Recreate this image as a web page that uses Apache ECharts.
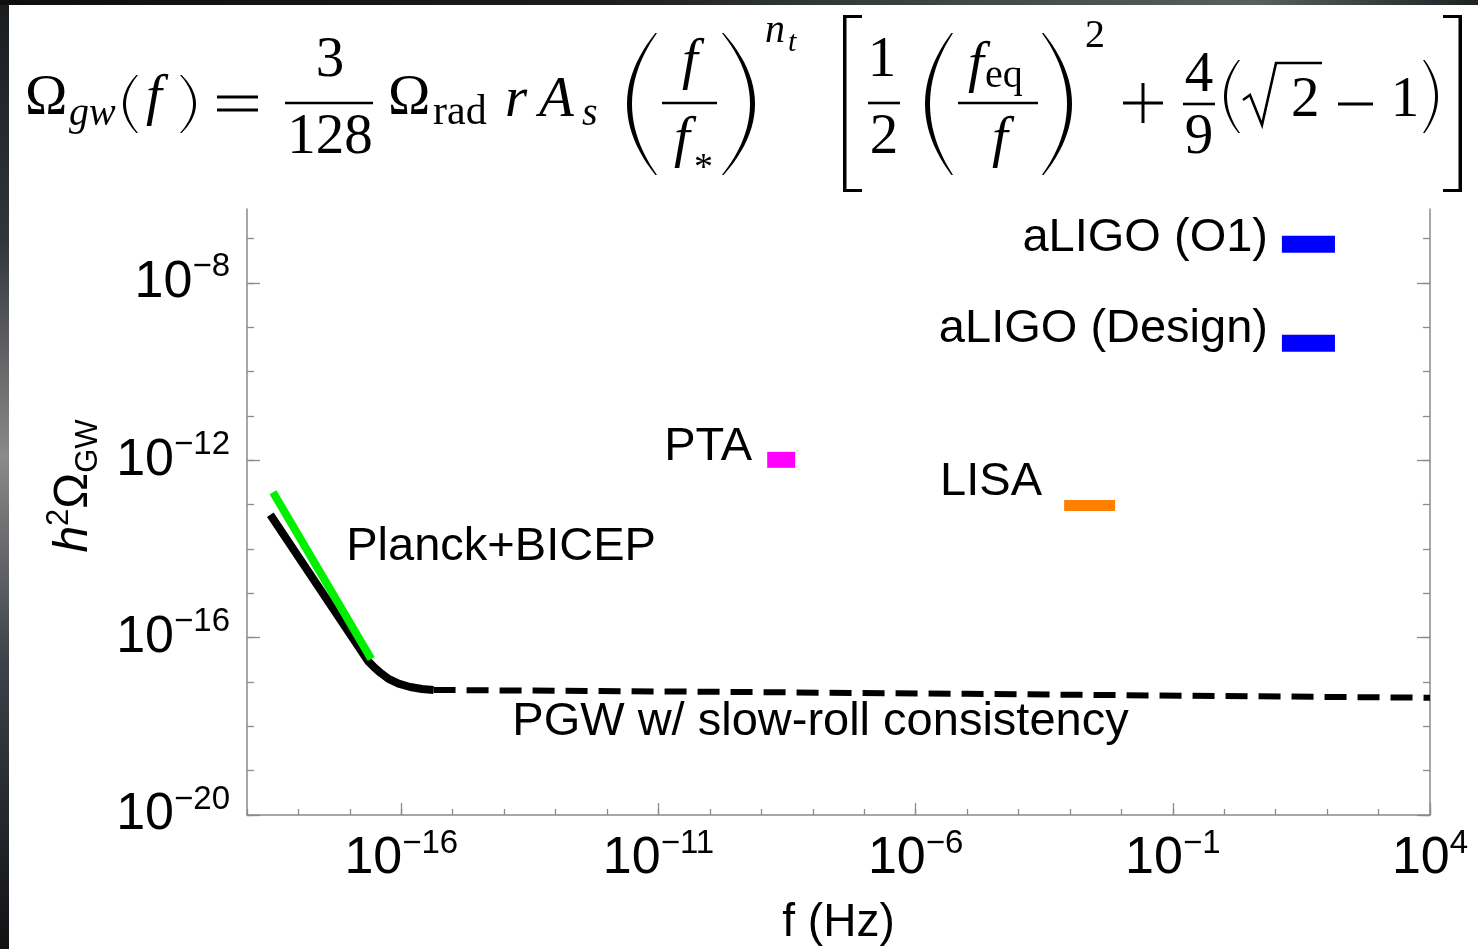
<!DOCTYPE html>
<html><head><meta charset="utf-8">
<script src="https://cdn.jsdelivr.net/npm/echarts@6/dist/echarts.min.js"></script>
<style>html,body{margin:0;padding:0;background:#fff;overflow:hidden}#c{width:1478px;height:949px}</style>
</head><body><div id="c"></div>
<script>
// ---------- data (log-log axes) ----------
const xMin = 1e-19, xMax = 1e4;            // f (Hz)
const yMin = 1e-20, yMax = 4.6e-7;         // h^2 Omega_GW
const xMinorTicks = [1e-19,1e-18,1e-17,1e-16,1e-15,1e-14,1e-13,1e-12,1e-11,1e-10,1e-9,1e-8,1e-7,1e-6,1e-5,1e-4,1e-3,1e-2,1e-1,1,10,100,1e3,1e4];
const xMajorTicks = [1e-16, 1e-11, 1e-6, 1e-1, 1e4];
const yMinorTicks = [1e-20,1e-19,1e-18,1e-17,1e-16,1e-15,1e-14,1e-13,1e-12,1e-11,1e-10,1e-9,1e-8,1e-7];
const yMajorTicks = [1e-20, 1e-16, 1e-12, 1e-8];

// Planck+BICEP (green)
const planckF     = [3.2e-19, 2.6e-17];
const planckOmega = [1.9e-13, 3.3e-17];

// PGW w/ slow-roll consistency: solid part
const pgwSolidF     = [2.84e-19, 2.31e-17, 2.89e-17, 3.90e-17, 5.65e-17, 8.85e-17, 1.49e-16, 2.52e-16, 4.24e-16];
const pgwSolidOmega = [5.85e-14, 2.86e-17, 2.21e-17, 1.62e-17, 1.17e-17, 9.14e-18, 7.69e-18, 6.93e-18, 6.59e-18];
// dashed part
const pgwDashF     = [4.24e-16, 1e-10, 1e-5, 1, 1e4];
const pgwDashOmega = [6.59e-18, 6.0e-18, 5.4e-18, 4.8e-18, 4.4e-18];

// detector boxes: [fLow, fHigh], [OmegaHigh, OmegaLow]
const detectorNames = ['aLIGO (O1)', 'aLIGO (Design)', 'PTA', 'LISA'];
const detectorF     = [[13.2, 142], [13.2, 142], [1.30e-9, 4.54e-9], [7.71e-4, 7.55e-3]];
const detectorOmega = [[1.15e-7, 4.75e-8], [6.71e-10, 2.77e-10], [1.54e-12, 6.71e-13], [1.27e-13, 7.19e-14]];

// text annotations (anchored in data space)
const noteTexts = ['aLIGO (O1)', 'aLIGO (Design)', 'PTA', 'LISA', 'Planck+BICEP', 'PGW w/ slow-roll consistency'];
const noteF     = [7.08, 7.08, 1.29e-11, 2.99e-6, 8.51e-18, 1.44e-14];
const noteOmega = [1.035e-7, 9.16e-10, 2.0e-12, 3.2e-13, 1.08e-14, 1.22e-18];

// ---------- styles ----------
const SANS = '"Liberation Sans", Arial, sans-serif';
const SERIF = '"Liberation Serif", "DejaVu Serif", serif';
const detectorColors = ['#0000ff', '#0000ff', '#ff00ff', '#ff8000'];
const noteAlign = ['right', 'right', 'left', 'left', 'left', 'left'];
const AXIS = '#8a8a8a';

const L = Math.log10;
const pairs = (a, b) => a.map((v, i) => [L(v), L(b[i])]);
const expLabel = v => { const e = Math.round(v); return '{b|10}{s|' + (e < 0 ? '\u2212' + (-e) : e) + '}'; };
const tickRich = () => ({
  b: { fontSize: 52, lineHeight: 64, fontFamily: SANS, color: '#000' },
  s: { fontSize: 33, lineHeight: 33, verticalAlign: 'top', fontFamily: SANS, color: '#000' }
});
const gridBox = { left: 247, right: 48, top: 209, bottom: 134, outerBoundsMode: 'none' };

// ---------- formula (graphic) ----------
function T(text, x, base, size, italic, align) {
  return { type: 'text', x: x, y: base - 0.34 * size, silent: true,
    style: { text: text, fontFamily: SERIF, fontSize: size, fontStyle: italic ? 'italic' : 'normal',
      fill: '#000', align: align || 'left', verticalAlign: 'middle' } };
}
function Ln(x1, y1, x2, y2, w) {
  return { type: 'line', silent: true, shape: { x1, y1, x2, y2 }, style: { stroke: '#000', lineWidth: w || 2.6 } };
}
function quad(p0, c, p2, n) {
  const out = [];
  for (let i = 0; i <= n; i++) { const t = i / n, a = (1 - t) * (1 - t), b = 2 * (1 - t) * t, d = t * t;
    out.push([a * p0[0] + b * c[0] + d * p2[0], a * p0[1] + b * c[1] + d * p2[1]]); }
  return out;
}
function paren(xl, xr, top, bot, open, t) {
  const mid = (top + bot) / 2, we = 1.6; let outer, inner;
  if (open) { const xo = xr - we;
    outer = quad([xo, top], [2 * xl - xo, mid], [xo, bot], 24);
    inner = quad([xr, bot], [2 * (xl + t) - xr, mid], [xr, top], 24);
  } else { const xo = xl + we;
    outer = quad([xo, top], [2 * xr - xo, mid], [xo, bot], 24);
    inner = quad([xl, bot], [2 * (xr - t) - xl, mid], [xl, top], 24);
  }
  return { type: 'polygon', silent: true, shape: { points: outer.concat(inner) }, style: { fill: '#000' } };
}
function bracket(xl, xr, top, bot, open) {
  const w = 3.5, h = 3; let pts;
  if (open) pts = [[xl,top],[xr,top],[xr,top+h],[xl+w,top+h],[xl+w,bot-h],[xr,bot-h],[xr,bot],[xl,bot]];
  else pts = [[xr,top],[xl,top],[xl,top+h],[xr-w,top+h],[xr-w,bot-h],[xl,bot-h],[xl,bot],[xr,bot]];
  return { type: 'polygon', silent: true, shape: { points: pts }, style: { fill: '#000' } };
}
const M = 57, S = 40;
const formula = [
  T('\u03A9', 25, 118, M), T('gw', 69, 128, S, true),
  paren(123, 138, 75, 133, true, 3), T('f', 146, 118, M, true), paren(180, 196, 75, 133, false, 3),
  Ln(217, 97, 258, 97, 3), Ln(217, 110, 258, 110, 3),
  T('3', 330, 80, M, false, 'center'), Ln(285, 103, 373, 103), T('128', 330, 157, M, false, 'center'),
  T('\u03A9', 388, 118, M), T('rad', 433, 127, 42),
  T('r', 505, 120, M, true), T('A', 539, 120, M, true), T('s', 582, 128, S, true),
  paren(627, 657, 33, 175, true, 5), T('f', 690, 82, M, true, 'center'), Ln(662, 103, 717, 103),
  T('f', 682, 160, M, true, 'center'), T('*', 694, 182, 38), paren(722, 755, 33, 175, false, 5),
  T('n', 765, 45, S, true), T('t', 788, 53, 30, true),
  bracket(843, 862, 15, 192, true),
  T('1', 882, 80, M, false, 'center'), Ln(868, 103, 900, 103), T('2', 884, 157, M, false, 'center'),
  paren(925, 953, 33, 175, true, 5), T('f', 968, 85, M, true), T('eq', 985, 90, S),
  Ln(958, 103, 1038, 103), T('f', 1000, 160, M, true, 'center'), paren(1042, 1072, 33, 175, false, 5),
  T('2', 1085, 50, S),
  Ln(1123, 103, 1163, 103, 3), Ln(1143, 83, 1143, 123, 3),
  T('4', 1199, 95, M, false, 'center'), Ln(1183, 104, 1215, 104), T('9', 1199, 157, M, false, 'center'),
  paren(1224, 1240, 60, 133, true, 3),
  { type: 'polyline', silent: true, shape: { points: [[1243,100],[1250,95],[1262,125],[1276,63],[1322,63]] }, style: { stroke: '#000', lineWidth: 2.6, fill: null } },
  T('2', 1291, 120, M), Ln(1338, 104, 1373, 104, 3), T('1', 1405, 120, M, false, 'center'),
  paren(1423, 1438, 60, 133, false, 3),
  bracket(1443, 1462, 15, 192, false)
];

const frame = [
  { type: 'rect', silent: true, shape: { x: 0, y: 0, width: 9, height: 949 },
    style: { fill: new echarts.graphic.LinearGradient(0, 0, 0, 1, [
      { offset: 0, color: '#1a1c1f' }, { offset: 0.25, color: '#30353a' }, { offset: 0.48, color: '#8b898a' },
      { offset: 0.7, color: '#3c4248' }, { offset: 1, color: '#101113' }]) } },
  { type: 'rect', silent: true, shape: { x: 0, y: 0, width: 1478, height: 5 },
    style: { fill: new echarts.graphic.LinearGradient(0, 0, 1, 0, [
      { offset: 0, color: '#0e0e0e' }, { offset: 0.4, color: '#1c1c1c' }, { offset: 0.65, color: '#3e4849' },
      { offset: 0.85, color: '#56605f' }, { offset: 1, color: '#1d2225' }]) } },
  { type: 'text', silent: true, x: 74, y: 486, rotation: Math.PI / 2,
    style: { text: '{h|h}{s|2}{o|\u03A9}{g|GW}', align: 'center', verticalAlign: 'middle',
      rich: {
        h: { fontSize: 48, lineHeight: 60, fontStyle: 'italic', fontFamily: SANS, fill: '#000' },
        s: { fontSize: 31, lineHeight: 31, verticalAlign: 'top', fontFamily: SANS, fill: '#000' },
        o: { fontSize: 48, lineHeight: 60, fontFamily: SANS, fill: '#000' },
        g: { fontSize: 31, lineHeight: 31, verticalAlign: 'bottom', fontFamily: SANS, fill: '#000' }
      } } }
];

// ---------- chart ----------
const chart = echarts.init(document.getElementById('c'), null, { renderer: 'canvas' });
const lx = [L(xMin), L(xMax)], ly = [L(yMin), L(yMax)];
const lineSt = { show: true, onZero: false, lineStyle: { color: AXIS, width: 1.5 } };
const noLine = { show: false, onZero: false };
const tick = (vals, len) => ({ show: true, inside: true, length: len, customValues: vals.map(L), lineStyle: { color: AXIS, width: 1.3 } });

const option = {
  animation: false,
  backgroundColor: '#fff',
  grid: [Object.assign({}, gridBox), Object.assign({}, gridBox)],
  xAxis: [
    { type: 'value', gridIndex: 0, min: lx[0], max: lx[1], position: 'bottom', splitLine: { show: false },
      axisLine: lineSt, axisTick: tick(xMinorTicks, 6), axisLabel: { show: false } },
    { type: 'value', gridIndex: 1, min: lx[0], max: lx[1], position: 'bottom', splitLine: { show: false },
      axisLine: noLine, axisTick: tick(xMajorTicks, 12),
      axisLabel: { show: true, margin: 12, fontSize: 52, fontFamily: SANS, color: '#000',
        customValues: xMajorTicks.map(L), formatter: expLabel, rich: tickRich() },
      name: 'f (Hz)', nameLocation: 'middle', nameGap: 85,
      nameTextStyle: { fontSize: 46, fontFamily: SANS, color: '#000' } }
  ],
  yAxis: [
    { type: 'value', gridIndex: 0, min: ly[0], max: ly[1], position: 'left', splitLine: { show: false },
      axisLine: lineSt, axisTick: tick(yMinorTicks, 7), axisLabel: { show: false } },
    { type: 'value', gridIndex: 0, min: ly[0], max: ly[1], position: 'right', splitLine: { show: false },
      axisLine: lineSt, axisTick: tick(yMinorTicks, 7), axisLabel: { show: false } },
    { type: 'value', gridIndex: 1, min: ly[0], max: ly[1], position: 'left', splitLine: { show: false },
      axisLine: noLine, axisTick: tick(yMajorTicks, 13),
      axisLabel: { show: true, margin: 17, fontSize: 52, fontFamily: SANS, color: '#000',
        customValues: yMajorTicks.map(L), formatter: expLabel, rich: tickRich() } },
    { type: 'value', gridIndex: 1, min: ly[0], max: ly[1], position: 'right', splitLine: { show: false },
      axisLine: noLine, axisTick: tick(yMajorTicks, 13), axisLabel: { show: false } }
  ],
  series: [
    { name: 'PGW solid', type: 'line', xAxisIndex: 0, yAxisIndex: 0, showSymbol: false, silent: true,
      data: pairs(pgwSolidF, pgwSolidOmega), lineStyle: { color: '#000', width: 8, cap: 'butt', join: 'round' } },
    { name: 'PGW dashed', type: 'line', xAxisIndex: 0, yAxisIndex: 0, showSymbol: false, silent: true,
      data: pairs(pgwDashF, pgwDashOmega), lineStyle: { color: '#000', width: 6, type: [22, 11], cap: 'butt' } },
    { name: 'Planck+BICEP', type: 'line', xAxisIndex: 0, yAxisIndex: 0, showSymbol: false, silent: true,
      data: pairs(planckF, planckOmega), lineStyle: { color: '#00f000', width: 8, cap: 'butt' } },
    { name: 'detectors', type: 'custom', xAxisIndex: 0, yAxisIndex: 0, silent: true,
      data: detectorNames.map((n, i) => [L(detectorF[i][0]), L(detectorF[i][1]), L(detectorOmega[i][0]), L(detectorOmega[i][1])]),
      encode: { x: [0, 1], y: [2, 3] },
      renderItem: function (params, api) {
        const p0 = api.coord([api.value(0), api.value(2)]);
        const p1 = api.coord([api.value(1), api.value(3)]);
        return { type: 'rect',
          shape: { x: Math.min(p0[0], p1[0]), y: Math.min(p0[1], p1[1]), width: Math.abs(p1[0] - p0[0]), height: Math.abs(p1[1] - p0[1]) },
          style: { fill: detectorColors[params.dataIndex] } };
      } },
    { name: 'notes', type: 'custom', xAxisIndex: 0, yAxisIndex: 0, silent: true, clip: false,
      data: noteTexts.map((t, i) => [L(noteF[i]), L(noteOmega[i])]),
      encode: { x: 0, y: 1 },
      renderItem: function (params, api) {
        const p = api.coord([api.value(0), api.value(1)]);
        return { type: 'text', x: p[0], y: p[1],
          style: { text: noteTexts[params.dataIndex], fontSize: 47, fontFamily: SANS, fill: '#000',
            align: noteAlign[params.dataIndex], verticalAlign: 'middle' } };
      } }
  ],
  graphic: { elements: frame.concat(formula) }
};
chart.setOption(option);
</script>
</body></html>
